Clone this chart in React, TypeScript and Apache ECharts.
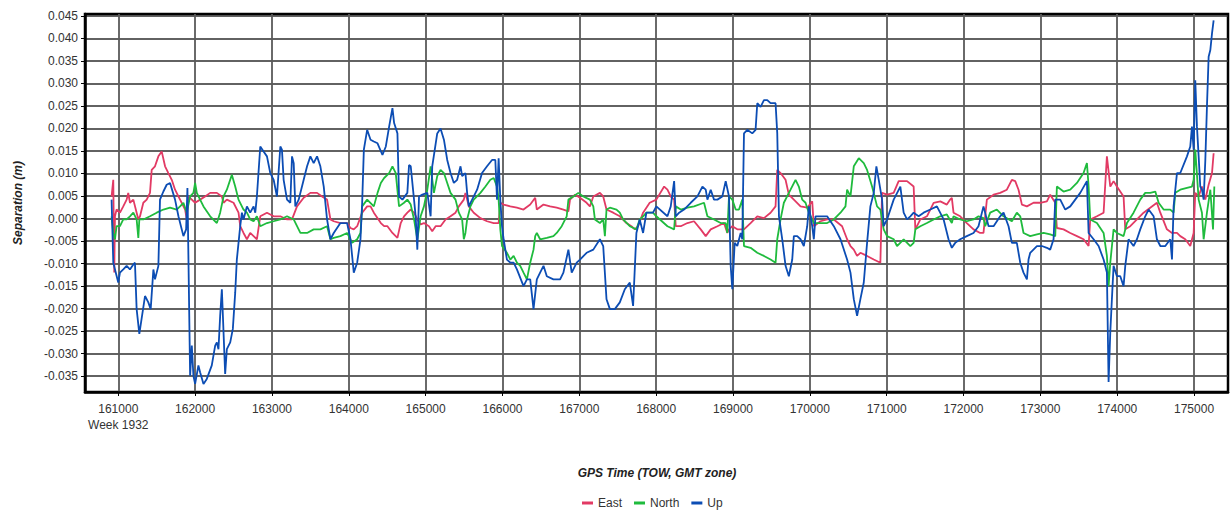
import React, { useEffect, useRef } from "react";
import * as echarts from "echarts";

const xTicks = [161000, 162000, 163000, 164000, 165000, 166000, 167000, 168000, 169000, 170000, 171000, 172000, 173000, 174000, 175000];
const yTicks = [-0.035, -0.03, -0.025, -0.02, -0.015, -0.01, -0.005, 0, 0.005, 0.01, 0.015, 0.02, 0.025, 0.03, 0.035, 0.04, 0.045];
const seriesNames = ["East", "North", "Up"];

const eastData: [number, number][] = [
  [160913, 0.0049], [160935, 0.0086], [160948, -0.012], [160957, 0.0005], [160978, 0.002], [161022, 0.0013], [161065, 0.0027], [161109, 0.0042], [161130, 0.0057], [161152, 0.0035], [161196, 0.0042], [161239, 0.0013], [161261, -0.0002], [161283, 0.0005], [161326, 0.0035], [161370, 0.0042], [161413, 0.0057], [161435, 0.0108], [161478, 0.0116], [161522, 0.0138], [161565, 0.0149], [161609, 0.0116], [161652, 0.0101], [161696, 0.0086], [161739, 0.0064], [161804, 0.0042], [161870, 0.002], [161891, -0.0002], [161913, 0.0049], [161957, 0.0042], [162000, 0.0035], [162065, 0.0042], [162130, 0.0049], [162196, 0.0057], [162283, 0.0057], [162348, 0.0049], [162370, 0.0035], [162413, 0.0042], [162500, 0.0035], [162565, 0.0013], [162587, -0.0017], [162630, -0.0032], [162674, -0.0046], [162717, -0.0032], [162761, -0.0039], [162804, -0.0046], [162848, 0.0005], [162935, 0.0013], [163022, 0.0005], [163109, 0.0005], [163196, -0.0002], [163261, -0.0002], [163326, 0.0027], [163413, 0.0046], [163500, 0.0057], [163587, 0.0057], [163652, 0.0049], [163717, 0.0042], [163761, -0.0002], [163804, -0.0006], [163891, -0.001], [163978, -0.001], [164022, -0.0021], [164065, -0.0024], [164109, -0.0017], [164174, 0.0013], [164239, 0.0027], [164283, 0.0027], [164326, 0.0013],
  [164417, -0.001], [164460, -0.0017], [164503, -0.0017], [164568, -0.0032], [164633, -0.0043], [164676, -0.001], [164719, 0.0005], [164762, 0.0013], [164806, 0.002], [164849, 0.0013], [164892, -0.0002], [164935, -0.0013], [164978, -0.001], [165043, -0.0017], [165086, -0.0028], [165130, -0.0017], [165194, -0.0017], [165259, -0.0002], [165324, 0.0005], [165389, 0.0013], [165432, 0.0027], [165497, 0.0042], [165518, 0.0057], [165562, 0.0027], [165626, 0.0013], [165713, 0.0001], [165799, -0.0006], [165886, -0.001], [165950, -0.001], [165972, 0.0035], [166015, 0.0031], [166102, 0.0027], [166188, 0.0024], [166274, 0.002], [166361, 0.0031], [166426, 0.0046], [166447, 0.002], [166534, 0.0031], [166620, 0.0027], [166706, 0.0024], [166793, 0.002], [166858, 0.0016], [166879, 0.0042], [166944, 0.0053], [167009, 0.0046], [167095, 0.0035], [167138, 0.0027], [167182, 0.0049], [167268, 0.0057], [167311, 0.0049], [167354, 0.002], [167441, 0.0013], [167527, 0.0005], [167614, -0.001], [167678, -0.0017], [167722, -0.0024], [167765, -0.0017], [167830, 0.0013], [167916, 0.0035], [168002, 0.0042],
  [168104, 0.0071], [168147, 0.0064], [168190, 0.0049], [168234, 0.0042], [168255, -0.0017], [168320, -0.0017], [168407, -0.001], [168493, -0.0006], [168580, -0.0024], [168645, -0.0039], [168710, -0.0024], [168797, -0.0017], [168883, -0.001], [168926, -0.0032], [168948, -0.0024], [168991, -0.0017], [169056, -0.0024], [169143, -0.0024], [169229, -0.001], [169316, 0.0005], [169403, 0.0001], [169489, 0.0013], [169554, 0.0027], [169576, 0.0108], [169619, 0.0101], [169684, 0.0086], [169727, 0.0053], [169792, 0.0042], [169879, 0.0027], [169966, 0.0024], [170031, 0.0038], [170052, -0.0017], [170139, -0.0006], [170225, -0.0002], [170312, -0.0002], [170420, -0.0017], [170485, -0.0046], [170529, -0.0061], [170572, -0.0069], [170615, -0.0083], [170658, -0.0076], [170745, -0.0083], [170832, -0.0091], [170918, -0.0098], [170940, 0.0057], [171005, 0.0053], [171091, 0.0057], [171156, 0.0083], [171265, 0.0083], [171351, 0.0071], [171373, -0.0024], [171438, -0.0002], [171524, 0.0005], [171611, 0.0035], [171698, 0.0038],
  [171783, 0.0031], [171826, 0.0042], [171848, 0.0046], [171870, 0.0013], [171957, 0.0005], [172043, -0.001], [172130, -0.0024], [172217, -0.0032], [172260, -0.0032], [172304, 0.0042], [172391, 0.0053], [172477, 0.0057], [172564, 0.0064], [172629, 0.0086], [172673, 0.0083], [172716, 0.0064], [172760, 0.0031], [172825, 0.0027], [172911, 0.0035], [172998, 0.0035], [173085, 0.0038], [173128, 0.0053], [173194, 0.0035], [173215, -0.0021], [173302, -0.0024], [173389, -0.0032], [173476, -0.0039], [173562, -0.0046], [173628, -0.0061], [173649, -0.0002], [173736, 0.0005], [173823, 0.0013], [173866, 0.0138], [173910, 0.0071], [173953, 0.0083], [173996, 0.0071], [174083, 0.0049], [174105, -0.0024], [174170, -0.0017], [174257, -0.0002], [174344, 0.0013], [174430, 0.0024], [174517, 0.0035], [174561, 0.0013], [174647, -0.0024], [174713, -0.0032], [174778, -0.0032], [174821, -0.0039], [174886, -0.0046], [174951, -0.0061], [174995, -0.0032], [175016, 0.0057], [175060, 0.0049], [175103, 0.0071], [175147, 0.0042], [175190, 0.0075], [175234, 0.0101], [175255, 0.0145],
];

const northData: [number, number][] = [
  [160913, 0.0005], [160935, -0.0032], [160957, -0.0046], [160978, -0.0017], [161022, -0.0017], [161065, -0.0002], [161109, -0.0002], [161152, 0.0005], [161196, 0.0013], [161239, -0.0002], [161261, -0.0043], [161274, -0.0002], [161326, -0.0002], [161413, 0.0005], [161500, 0.0013], [161587, 0.002], [161674, 0.0024], [161761, 0.002], [161804, 0.0027], [161848, 0.0035], [161891, 0.0013], [161935, 0.0049], [161978, 0.0057], [162000, 0.0079], [162022, 0.0057], [162065, 0.0042], [162109, 0.0027], [162196, 0.0005], [162283, -0.001], [162326, 0.0013], [162370, 0.0049], [162413, 0.0064], [162478, 0.0097], [162522, 0.0071], [162565, 0.0042], [162630, 0.002], [162674, 0.0013], [162717, -0.0002], [162761, -0.0006], [162804, 0.0005], [162848, -0.0017], [162935, -0.001], [163022, -0.0006], [163109, -0.0002], [163196, 0.0005], [163283, -0.0002], [163370, -0.0032], [163457, -0.0032], [163543, -0.0024], [163630, -0.0024], [163717, -0.0017], [163761, -0.0046], [163804, -0.0043], [163891, -0.0039], [163978, -0.0032], [164043, -0.0054], [164109, -0.0046], [164152, -0.0032], [164174, 0.0027], [164239, 0.0042], [164326, 0.0027],
  [164374, 0.0057], [164417, 0.0079], [164460, 0.009], [164525, 0.0101], [164568, 0.0116], [164611, 0.0101], [164654, 0.0027], [164719, 0.0035], [164762, 0.0042], [164806, 0.0031], [164849, -0.0002], [164892, -0.0046], [164935, 0.0005], [164978, 0.0027], [165022, 0.0064], [165065, 0.0116], [165108, 0.0057], [165151, 0.0094], [165194, 0.0108], [165238, 0.0101], [165281, 0.0079], [165324, 0.0057], [165389, 0.0042], [165432, 0.0013], [165475, -0.0002], [165497, -0.0046], [165518, -0.0032], [165540, -0.0002], [165583, 0.0027], [165626, 0.0042], [165713, 0.0057], [165778, 0.0071], [165842, 0.0086], [165886, 0.009], [165929, 0.0071], [165950, 0.0042], [165972, -0.0024], [165994, -0.0061], [166058, -0.0076], [166102, -0.0091], [166145, -0.0083], [166188, -0.0098], [166231, -0.0105], [166274, -0.012], [166318, -0.0135], [166361, -0.0098], [166404, -0.0069], [166426, -0.0039], [166447, -0.0032], [166490, -0.0046], [166577, -0.0043], [166663, -0.0039], [166706, -0.0032], [166771, -0.0017], [166836, 0.0005], [166858, 0.0042], [166922, 0.0049], [166987, 0.0057], [167052, 0.0049], [167138, 0.0042], [167182, 0.0027], [167203, -0.0002], [167268, -0.001], [167311, -0.0002], [167333, -0.0039], [167354, 0.002], [167398, 0.0024], [167484, 0.002], [167527, 0.0013], [167570, -0.0002], [167657, -0.0017], [167743, -0.0024], [167786, -0.0002], [167830, 0.0005], [167873, 0.0013], [167959, 0.0013], [168002, 0.0005],
  [168147, -0.0017], [168234, -0.0024], [168255, 0.0027], [168320, 0.002], [168407, 0.0024], [168493, 0.0027], [168623, 0.0035], [168667, 0.0005], [168753, -0.0002], [168840, -0.001], [168905, -0.001], [168926, -0.0032], [168948, 0.0049], [168991, 0.0042], [169035, 0.002], [169078, 0.002], [169121, 0.0042], [169143, -0.0061], [169229, -0.0065], [169316, -0.0076], [169403, -0.0083], [169489, -0.0091], [169554, -0.0098], [169576, -0.0046], [169619, -0.0002], [169662, 0.0035], [169749, 0.0064], [169814, 0.0086], [169857, 0.0071], [169901, 0.0042], [169944, 0.0035], [169987, 0.0013], [170031, -0.0002], [170052, -0.001], [170225, -0.001], [170312, -0.0002], [170399, 0.0013], [170464, 0.0027], [170485, 0.0064], [170529, 0.0049], [170572, 0.0116], [170637, 0.0134], [170702, 0.0123], [170745, 0.0108], [170810, 0.0071], [170875, 0.0027], [170918, 0.002], [170961, -0.0024], [171005, -0.0039], [171091, -0.0046], [171135, -0.0061], [171221, -0.0046], [171308, -0.0061], [171351, -0.0054], [171373, -0.0024], [171438, -0.0017], [171524, -0.001], [171611, -0.0002], [171698, 0.0005],
  [171783, 0.0009], [171848, -0.001], [171870, 0.0005], [171957, -0.0002], [172043, -0.0006], [172130, -0.0002], [172195, 0.0005], [172260, 0.0001], [172282, -0.0017], [172347, 0.0013], [172434, 0.002], [172521, 0.0005], [172629, -0.0006], [172694, 0.0013], [172738, 0.0005], [172781, -0.0032], [172868, -0.0039], [172955, -0.0035], [173042, -0.0032], [173128, -0.0035], [173194, -0.0039], [173215, 0.0071], [173302, 0.006], [173389, 0.0064], [173476, 0.0079], [173562, 0.0101], [173606, 0.0123], [173628, 0.0071], [173649, -0.0002], [173736, -0.001], [173823, -0.0032], [173866, -0.0083], [173888, -0.015], [173910, -0.0098], [173953, -0.0024], [173996, -0.0032], [174083, -0.0039], [174127, -0.001], [174213, 0.0013], [174300, 0.0042], [174365, 0.0057], [174430, 0.0057], [174496, 0.006], [174539, 0.0035], [174604, 0.002], [174691, 0.002], [174734, 0.0013], [174756, 0.0057], [174821, 0.0064], [174908, 0.0068], [174973, 0.0071], [174995, 0.0086], [175016, 0.0153], [175060, 0.0042], [175103, 0.0013], [175125, -0.0046], [175168, 0.0013], [175212, 0.0064], [175247, -0.0024], [175264, 0.0071],
];

const upData: [number, number][] = [
  [160913, 0.0042], [160935, -0.0098], [161000, -0.0142], [161022, -0.012], [161065, -0.0113], [161109, -0.0105], [161152, -0.0113], [161196, -0.0102], [161217, -0.0098], [161239, -0.0201], [161274, -0.0256], [161348, -0.0172], [161391, -0.0186], [161422, -0.0201], [161457, -0.0113], [161478, -0.0135], [161522, -0.0105], [161543, 0.0042], [161587, 0.006], [161630, 0.0075], [161674, 0.0079], [161739, 0.0042], [161783, 0.0005], [161848, -0.0039], [161883, -0.0024], [161900, 0.0068], [161935, -0.0349], [161957, -0.0282], [161978, -0.0349], [162000, -0.0367], [162043, -0.0326], [162065, -0.0341], [162109, -0.0367], [162152, -0.0356], [162217, -0.0326], [162261, -0.0282], [162283, -0.0275], [162304, -0.029], [162326, -0.0216], [162348, -0.0157], [162370, -0.0253], [162391, -0.0345], [162413, -0.029], [162457, -0.0275], [162491, -0.0245], [162522, -0.0164], [162543, -0.0091], [162587, -0.0017], [162609, 0.0013], [162630, -0.0002], [162674, 0.0027], [162717, 0.0013], [162761, 0.0027], [162783, 0.0013], [162804, 0.0049], [162848, 0.016], [162891, 0.0149], [162935, 0.0138], [162978, 0.0101], [163022, 0.0086], [163065, 0.0049], [163109, 0.016], [163130, 0.0153], [163152, 0.0086], [163196, 0.0042], [163239, 0.0035], [163261, 0.0138], [163283, 0.0123], [163304, 0.0027], [163348, 0.0042], [163413, 0.0086], [163457, 0.0116], [163500, 0.0138], [163543, 0.0123], [163587, 0.0138], [163630, 0.0116], [163674, 0.0071], [163717, -0.0002], [163761, -0.0046], [163804, -0.0032], [163891, -0.001], [163978, -0.001], [164022, -0.0046], [164065, -0.012], [164109, -0.0098], [164152, -0.0046], [164174, 0.0035], [164196, 0.0153], [164239, 0.0197], [164283, 0.0175], [164326, 0.0171],
  [164374, 0.0167], [164438, 0.0141], [164482, 0.016], [164525, 0.0204], [164568, 0.0245], [164590, 0.0212], [164633, 0.0189], [164654, 0.0049], [164698, 0.0042], [164762, 0.0057], [164784, 0.0119], [164806, 0.0116], [164849, 0.0042], [164870, 0.0005], [164892, -0.0069], [164914, 0.0049], [164957, 0.0053], [165022, 0.0057], [165065, 0.0005], [165086, 0.0116], [165151, 0.0189], [165194, 0.02], [165238, 0.0175], [165281, 0.013], [165324, 0.0101], [165367, 0.0079], [165410, 0.0086], [165454, 0.0116], [165475, 0.0094], [165518, 0.0101], [165540, 0.0057], [165562, 0.0027], [165605, 0.0042], [165670, 0.0064], [165734, 0.0101], [165799, 0.0116], [165864, 0.013], [165907, 0.013], [165929, 0.0042], [165950, 0.0134], [165972, 0.0042], [165994, -0.0017], [166015, -0.0046], [166058, -0.0091], [166102, -0.0098], [166145, -0.0098], [166188, -0.0113], [166274, -0.015], [166318, -0.0135], [166361, -0.0135], [166404, -0.0201], [166447, -0.0135], [166490, -0.012], [166534, -0.0105], [166577, -0.0128], [166663, -0.0135], [166750, -0.0135], [166793, -0.012], [166858, -0.0069], [166901, -0.012], [166966, -0.0098], [167009, -0.0091], [167095, -0.0076], [167182, -0.0069], [167268, -0.0046], [167311, -0.0061], [167354, -0.0179], [167398, -0.0201], [167462, -0.0201], [167527, -0.0186], [167592, -0.0157], [167657, -0.0142], [167700, -0.0194], [167743, -0.0032], [167786, -0.0002], [167830, -0.0032], [167873, 0.0013], [167959, 0.0013], [168002, 0.0027],
  [168147, 0.0005], [168190, 0.0027], [168234, 0.0083], [168255, 0.0005], [168299, 0.0013], [168363, 0.002], [168450, 0.0035], [168537, 0.0049], [168602, 0.0071], [168645, 0.0064], [168667, 0.0042], [168710, 0.0064], [168753, 0.0042], [168797, 0.0042], [168861, 0.0049], [168905, 0.0083], [168948, 0.0049], [168970, -0.0105], [168991, -0.0157], [169022, -0.0054], [169056, -0.0061], [169100, -0.0032], [169121, -0.0046], [169143, 0.0189], [169186, 0.0197], [169251, 0.0189], [169294, 0.0197], [169316, 0.0256], [169359, 0.0248], [169403, 0.0263], [169446, 0.0263], [169489, 0.0256], [169554, 0.0256], [169576, 0.0189], [169598, 0.0005], [169641, -0.0046], [169684, -0.0105], [169727, -0.0128], [169771, -0.0091], [169792, -0.0039], [169836, -0.0039], [169879, -0.0046], [169922, -0.0061], [169966, -0.0017], [169987, 0.0027], [170031, -0.0017], [170052, -0.0046], [170074, 0.0005], [170139, 0.0005], [170225, 0.0005], [170312, -0.0017], [170399, -0.0046], [170485, -0.0091], [170529, -0.012], [170572, -0.0179], [170615, -0.0216], [170658, -0.0179], [170702, -0.0142], [170745, -0.0054], [170788, 0.0027], [170832, 0.0057], [170866, 0.0116], [170897, 0.0086], [170940, 0.0042], [170961, -0.0017], [171005, -0.0002], [171091, 0.0042], [171178, 0.0071], [171221, 0.0013], [171265, -0.0002], [171308, 0.0005], [171351, 0.0013], [171416, 0.0005], [171481, 0.0013], [171568, 0.002], [171654, 0.0027], [171741, -0.0002],
  [171805, -0.0046], [171848, -0.0065], [171892, -0.0054], [171957, -0.0046], [172043, -0.0039], [172130, -0.0032], [172195, -0.0017], [172260, 0.0027], [172326, -0.0017], [172391, -0.0017], [172477, 0.0005], [172521, 0.0013], [172586, -0.0017], [172629, -0.0054], [172694, -0.0054], [172738, -0.0098], [172781, -0.012], [172825, -0.0135], [172846, -0.0091], [172868, -0.0076], [172955, -0.0061], [173020, -0.0061], [173085, -0.0065], [173128, -0.0069], [173172, -0.0046], [173194, 0.0042], [173259, 0.0042], [173324, 0.002], [173389, 0.0027], [173454, 0.0042], [173519, 0.0057], [173606, 0.0083], [173628, -0.0032], [173693, -0.0046], [173758, -0.0061], [173823, -0.0091], [173866, -0.012], [173888, -0.0363], [173910, -0.0253], [173931, -0.0179], [173953, -0.0105], [173996, -0.0128], [174040, -0.0128], [174083, -0.015], [174105, -0.0105], [174148, -0.0046], [174213, -0.0061], [174257, -0.0046], [174300, -0.0024], [174365, 0.0005], [174409, 0.002], [174474, 0.0005], [174517, -0.0046], [174561, -0.0061], [174626, -0.0061], [174691, -0.0046], [174713, -0.0091], [174734, 0.0027], [174778, 0.0101], [174821, 0.0101], [174908, 0.0138], [174951, 0.016], [174973, 0.0204], [174995, 0.0153], [175016, 0.0307], [175038, 0.0204], [175060, 0.0138], [175081, 0.0071], [175103, 0.0064], [175125, 0.0042], [175147, 0.013], [175168, 0.0248], [175190, 0.0359], [175212, 0.0374], [175234, 0.0411], [175255, 0.044],
];

const colors = ["#e23a64", "#1fbb3d", "#0c4db4"];
const FONT = "'Liberation Sans', Arial, sans-serif";

export default function App() {
  const ref = useRef<HTMLDivElement>(null);
  useEffect(() => {
    if (!ref.current) return;
    const chart = echarts.init(ref.current, undefined, { renderer: "svg" });
    const datasets = [eastData, northData, upData];
    chart.setOption({
      animation: false,
      backgroundColor: "#ffffff",
      textStyle: { fontFamily: FONT },
      grid: { left: 85, right: 4, top: 14, bottom: 121, show: true, borderColor: "#000", borderWidth: 2.5, backgroundColor: "transparent" },
      legend: {
        data: seriesNames,
        left: 577,
        top: 492,
        icon: "rect",
        itemWidth: 11,
        itemHeight: 3,
        itemGap: 12,
        textStyle: { fontFamily: FONT, fontSize: 12, color: "#333" },
      },
      xAxis: {
        type: "value",
        min: 160567,
        max: 175442,
        axisLine: { show: true, onZero: false, lineStyle: { color: "#000", width: 2.5 } },
        axisTick: { show: true, customValues: xTicks, length: 4, lineStyle: { color: "#000", width: 1 } },
        axisLabel: {
          customValues: xTicks,
          fontFamily: FONT,
          fontSize: 12,
          color: "#333",
          margin: 9,
          lineHeight: 16,
          formatter: (v: number) => (v === xTicks[0] ? `${v}\nWeek 1932` : `${v}`),
        },
        splitLine: { show: true, lineStyle: { color: "#5a5a5a", width: 1.8 } },
      },
      yAxis: {
        type: "value",
        min: -0.0385,
        max: 0.0454,
        axisLine: { show: true, onZero: false, lineStyle: { color: "#000", width: 2.5 } },
        axisTick: { show: true, customValues: yTicks, length: 4, lineStyle: { color: "#000", width: 1 } },
        axisLabel: {
          customValues: yTicks,
          fontFamily: FONT,
          fontSize: 12,
          color: "#333",
          margin: 7,
          formatter: (v: number) => (Math.abs(v) < 1e-9 ? "0.000" : v.toFixed(3)),
        },
        splitLine: { show: true, lineStyle: { color: "#2e2e2e", width: 1.5 } },
      },
      graphic: [
        {
          type: "text",
          x: 18,
          y: 203,
          rotation: Math.PI / 2,
          style: { text: "Separation (m)", fontFamily: FONT, fontSize: 12, fontWeight: "bold", fontStyle: "italic", fill: "#222", align: "center", verticalAlign: "middle" },
        },
        {
          type: "text",
          x: 657,
          y: 473,
          style: { text: "GPS Time (TOW, GMT zone)", fontFamily: FONT, fontSize: 12, fontWeight: "bold", fontStyle: "italic", fill: "#222", align: "center", verticalAlign: "middle" },
        },
      ],
      series: seriesNames.map((name, i) => ({
        name,
        type: "line",
        data: datasets[i],
        showSymbol: false,
        symbol: "none",
        color: colors[i],
        lineStyle: { color: colors[i], width: 1.8 },
        z: 3 + i,
      })),
    });
    return () => chart.dispose();
  }, []);
  return <div ref={ref} style={{ position: "absolute", left: 0, top: 0, width: 1232, height: 513 }} />;
}
